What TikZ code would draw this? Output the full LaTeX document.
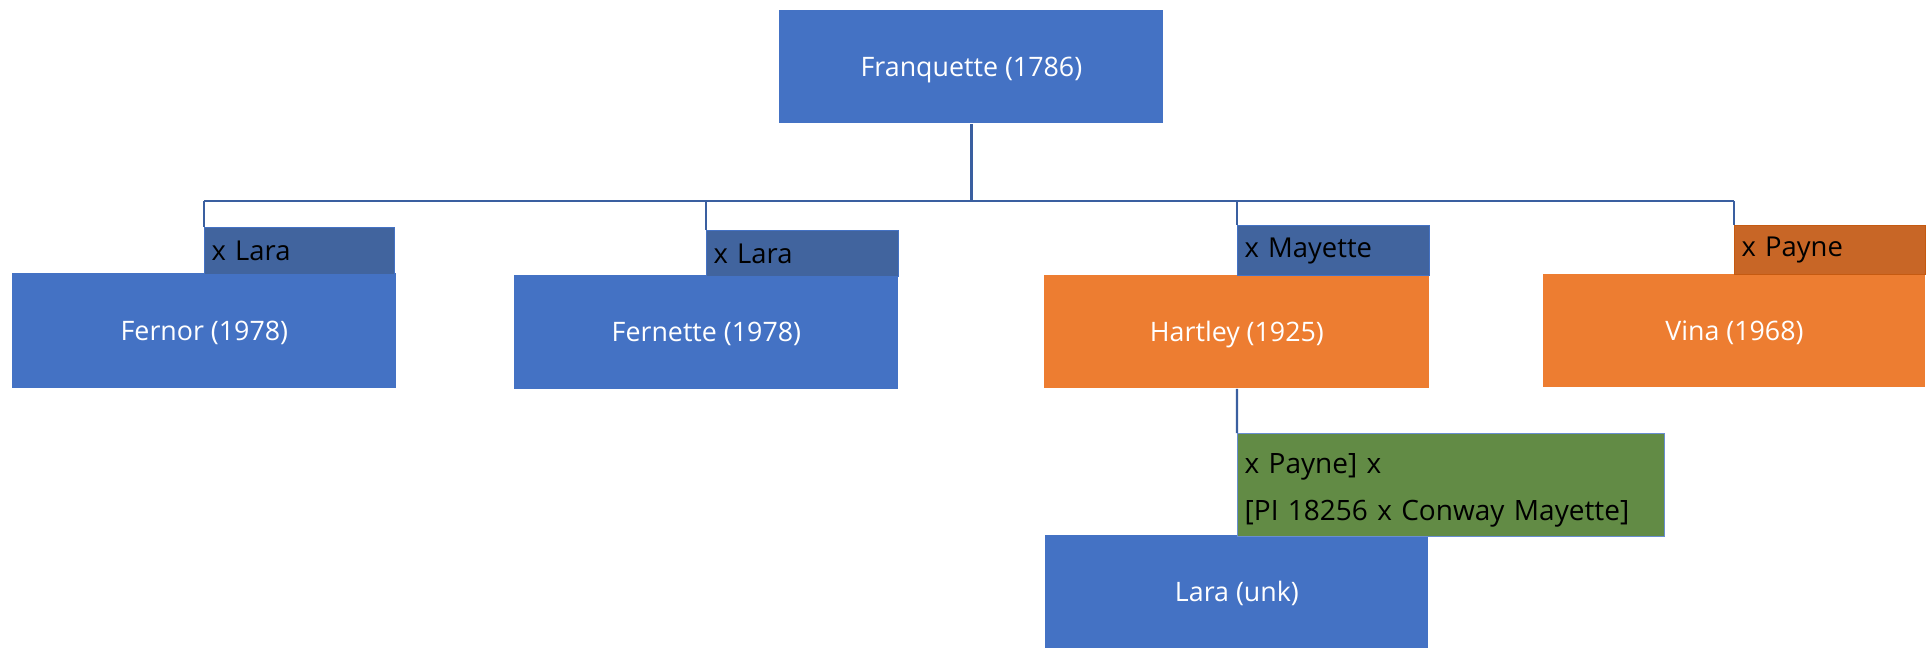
\documentclass[tikz,border=0pt]{standalone}
\usepackage{fontspec}
\setmainfont{Open Sans}
\definecolor{boxblue}{HTML}{4472C4}
\definecolor{boxorange}{HTML}{ED7D31}
\definecolor{lblblue}{HTML}{41649E}
\definecolor{lblorange}{HTML}{C86626}
\definecolor{lblorangeline}{HTML}{C55A11}
\definecolor{lblgreen}{HTML}{628B45}
\definecolor{linkcol}{HTML}{3A5FA0}
\tikzset{
  person/.style={rectangle, anchor=north west, inner sep=0pt, text=white,
    font=\fontsize{13.4pt}{16pt}\selectfont, text height=0.72em+2pt, text depth=0pt},
  bluebox/.style={person, fill=boxblue},
  orangebox/.style={person, fill=boxorange},
  cross/.style={rectangle, anchor=north west, inner ysep=0pt, inner xsep=3.5pt,
    align=left, text=black, line width=0.7pt, font=\fontsize{13.7pt}{16pt}\selectfont},
  crossblue/.style={cross, fill=lblblue, draw=boxblue},
  crossorange/.style={cross, fill=lblorange, draw=lblorangeline},
  crossgreen/.style={cross, fill=lblgreen, draw=boxblue!80, font=\fontsize{14pt}{23.5pt}\selectfont},
  link/.style={draw=linkcol, line width=1.1pt}
}
\begin{document}
\begin{tikzpicture}[x=0.5pt, y=-0.5pt]
\useasboundingbox (0,0) rectangle (1927,648);
% parent
\node[bluebox, minimum width=192pt, minimum height=56.5pt] (fr) at (779,10) {Franquette (1786)};
% children
\node[bluebox, minimum width=192pt, minimum height=57.5pt] (fe) at (12,273) {Fernor (1978)};
\node[bluebox, minimum width=192pt, minimum height=57pt] (fn) at (514,275) {Fernette (1978)};
\node[orangebox, minimum width=192.5pt, minimum height=56.5pt] (ha) at (1044,275) {Hartley (1925)};
\node[orangebox, minimum width=191pt, minimum height=56.5pt] (vi) at (1543,274) {Vina (1968)};
\node[bluebox, minimum width=191.5pt, minimum height=56.5pt] (la) at (1045,535) {Lara (unk)};
% cross labels
\node[crossblue, text width=88pt, minimum height=23.5pt] (l1) at (204,227) {x Lara};
\node[crossblue, text width=89pt, minimum height=23pt] (l2) at (706,230) {x Lara};
\node[crossblue, text width=89pt, minimum height=25pt] (l3) at (1237,225) {x Mayette};
\node[crossorange, text width=88.5pt, minimum height=24.5pt] (l4) at (1734,225) {x Payne};
\node[crossgreen, text width=206.5pt, minimum height=51.5pt] (g) at (1237,433) {\rule{0pt}{15pt}x Payne] x\\\relax [PI 18256 x Conway Mayette]};
% connectors
\coordinate (bus) at (0,201);
\draw[link] (fr.south) -- (fr.south |- bus);
\draw[link] (l1.north west |- bus) -- (l4.north west |- bus);
\draw[link] (l1.north west |- bus) -- (l1.north west);
\draw[link] (l2.north west |- bus) -- (l2.north west);
\draw[link] (l3.north west |- bus) -- (l3.north west);
\draw[link] (l4.north west |- bus) -- (l4.north west);
\draw[link] (ha.south) -- (g.north west);
\end{tikzpicture}
\end{document}
